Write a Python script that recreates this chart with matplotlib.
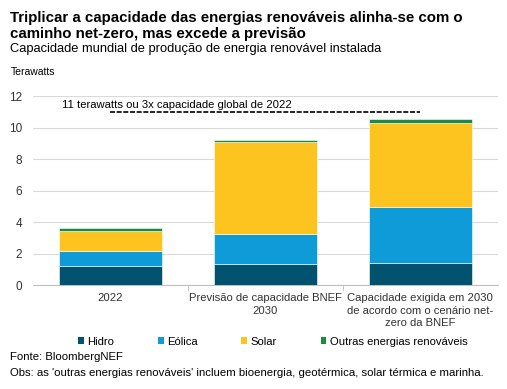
import matplotlib.pyplot as plt
from matplotlib.patches import Patch
import numpy as np

plt.rcParams['font.family'] = ['Liberation Sans', 'DejaVu Sans']

# Data (terawatts)
categories = ['2022',
              'Previsão de capacidade BNEF\n2030',
              'Capacidade exigida em 2030\nde acordo com o cenário net-\nzero da BNEF']
hidro = [1.20, 1.33, 1.40]
eolica = [0.95, 1.90, 3.57]
solar = [1.28, 5.83, 5.30]
outras = [0.17, 0.15, 0.25]
series_names = ['Hidro', 'Eólica', 'Solar', 'Outras energias renováveis']
target_value = 11
target_label = '11 terawatts ou 3x capacidade global de 2022'

colors = ['#00526F', '#0F9AD8', '#FDC420', '#1E8A3A']

fig = plt.figure(figsize=(5.07, 3.89), dpi=100)
ax = fig.add_axes([0.065, 0.267, 0.917, 0.486])

x = np.arange(len(categories))
bottom = np.zeros(len(categories))
for vals, col in zip([hidro, eolica, solar, outras], colors):
    ax.bar(x, vals, bottom=bottom, width=0.665, color=col,
           edgecolor='white', linewidth=0.4, zorder=3)
    bottom += np.array(vals)

# target line
ax.plot([x[0], x[-1]], [target_value, target_value], color='black',
        linestyle=(0, (3, 1)), linewidth=1.2, zorder=4)
ax.text(x[0] - 0.31, target_value + 0.42, target_label, fontsize=8.1,
        ha='left', va='center')

ax.set_xlim(-0.5, 2.5)
ax.set_ylim(0, 12)
ax.set_yticks(range(0, 13, 2))
ax.tick_params(axis='y', length=0, labelsize=8.5, pad=8, colors='#333333')
ax.set_xticks(x)
ax.set_xticklabels(categories, fontsize=8.1, linespacing=1.3)
ax.tick_params(axis='x', length=0, pad=6, colors='#333333')
ax.set_xticks([0.5, 1.5], minor=True)
ax.tick_params(axis='x', which='minor', length=4, color='#BFBFBF')
ax.grid(axis='y', color='#D9D9D9', linewidth=0.8, zorder=0)
for s in ['top', 'right', 'left']:
    ax.spines[s].set_visible(False)
ax.spines['bottom'].set_color('#BFBFBF')

handles = [Patch(facecolor=c, label=n) for c, n in zip(colors, series_names)]
fig.legend(handles=handles, loc='center', bbox_to_anchor=(0.538, 0.122),
           ncol=4, frameon=False, fontsize=8.1, handlelength=0.5,
           handleheight=0.5, handletextpad=0.3, columnspacing=3.9)

fig.text(0.02, 0.933, 'Triplicar a capacidade das energias renováveis alinha-se com o\n'
         'caminho net-zero, mas excede a previsão', fontsize=10.8,
         fontweight='bold', ha='left', va='center', linespacing=1.15)
fig.text(0.02, 0.874, 'Capacidade mundial de produção de energia renovável instalada',
         fontsize=9.3, ha='left', va='center')
fig.text(0.022, 0.815, 'Terawatts', fontsize=7.5, ha='left', va='center')
fig.text(0.02, 0.082, 'Fonte: BloombergNEF', fontsize=8.2, ha='left', va='center')
fig.text(0.02, 0.041, "Obs: as 'outras energias renováveis' incluem bioenergia, "
         "geotérmica, solar térmica e marinha.", fontsize=8.2, ha='left', va='center')

fig.savefig('out.png', dpi=100, facecolor='white')
